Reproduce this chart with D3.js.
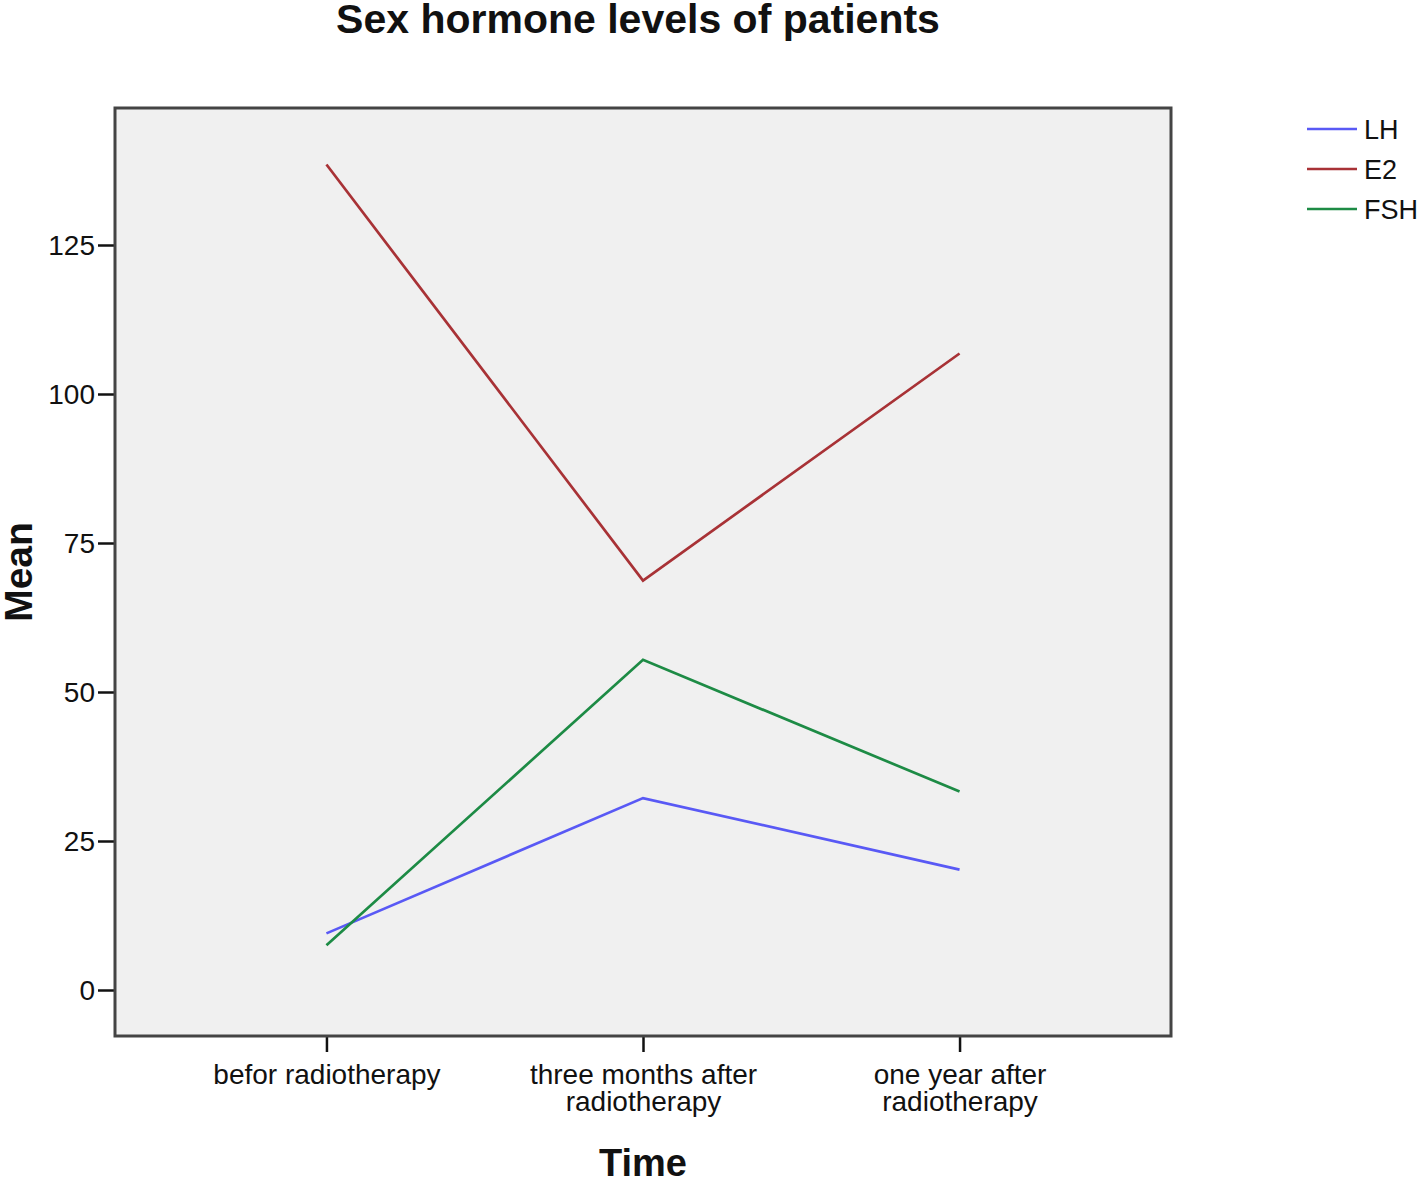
<!DOCTYPE html>
<html>
<head>
<meta charset="utf-8">
<script src="https://cdn.jsdelivr.net/npm/d3@7"></script>
<style>
  body { margin: 0; background: #fff; }
  svg { display: block; font-family: "Liberation Sans", Arial, sans-serif; }
</style>
</head>
<body>
<svg id="chart"></svg>
<script>
const timePoints = ['befor radiotherapy', 'three months after radiotherapy', 'one year after radiotherapy'];
const tickLabels = [['befor radiotherapy'], ['three months after', 'radiotherapy'], ['one year after', 'radiotherapy']];
const seriesNames = ['LH', 'E2', 'FSH'];
const lhValues = [9.5, 32.2, 20.2];
const e2Values = [138.5, 68.7, 106.8];
const fshValues = [7.5, 55.4, 33.3];
const yTicks = [0, 25, 50, 75, 100, 125];
const colors = ['#5959f5', '#a83236', '#1d8b45'];

const width = 1418;
const height = 1182;
const plot = { left: 115, right: 1171, top: 108, bottom: 1036 };

const svg = d3.select('#chart').attr('width', width).attr('height', height);

const series = seriesNames.map((name, i) => ({
  name: name,
  values: [lhValues, e2Values, fshValues][i],
  color: colors[i]
}));

const xScale = d3.scalePoint()
  .domain(timePoints)
  .range([plot.left, plot.right])
  .padding(0.668);

// 0 sits at y=990, 125 at y=245
const yScale = d3.scaleLinear()
  .domain([0, 125])
  .range([990, 245]);

// plot background
svg.append('rect')
  .attr('x', plot.left)
  .attr('y', plot.top)
  .attr('width', plot.right - plot.left)
  .attr('height', plot.bottom - plot.top)
  .attr('fill', '#f0f0f0');

// lines
const line = d3.line()
  .x((d, i) => xScale(timePoints[i]))
  .y(d => yScale(d));

svg.selectAll('.series')
  .data(series)
  .enter()
  .append('path')
  .attr('class', 'series')
  .attr('d', d => line(d.values))
  .attr('fill', 'none')
  .attr('stroke', d => d.color)
  .attr('stroke-width', 2.7);

// y axis
const yAxis = d3.axisLeft(yScale)
  .tickValues(yTicks)
  .tickSize(17)
  .tickPadding(3);

const gy = svg.append('g')
  .attr('transform', 'translate(' + plot.left + ',0)')
  .call(yAxis);
gy.select('.domain').remove();
gy.selectAll('.tick line').attr('stroke', '#111').attr('stroke-width', 2.5);
gy.selectAll('.tick text')
  .attr('fill', '#111')
  .style('font-size', '28px')
  .attr('dy', '0.35em');

// x axis
const xAxis = d3.axisBottom(xScale)
  .tickSize(16)
  .tickFormat('');

const gx = svg.append('g')
  .attr('transform', 'translate(0,' + plot.bottom + ')')
  .call(xAxis);
gx.select('.domain').remove();
gx.selectAll('.tick line').attr('stroke', '#111').attr('stroke-width', 2.5);

gx.selectAll('.tick')
  .append('text')
  .attr('fill', '#111')
  .attr('text-anchor', 'middle')
  .style('font-size', '28px')
  .selectAll('tspan')
  .data((d, i) => tickLabels[i])
  .enter()
  .append('tspan')
  .attr('x', 0)
  .attr('y', (d, i) => 48 + i * 27)
  .text(d => d);

// frame on top of the lines
svg.append('rect')
  .attr('x', plot.left)
  .attr('y', plot.top)
  .attr('width', plot.right - plot.left)
  .attr('height', plot.bottom - plot.top)
  .attr('fill', 'none')
  .attr('stroke', '#444')
  .attr('stroke-width', 3);

// title and axis titles
svg.append('text')
  .attr('x', 638)
  .attr('y', 33)
  .attr('text-anchor', 'middle')
  .style('font-size', '41px')
  .style('font-weight', 'bold')
  .attr('fill', '#111')
  .text('Sex hormone levels of patients');

svg.append('text')
  .attr('x', 643)
  .attr('y', 1176)
  .attr('text-anchor', 'middle')
  .style('font-size', '38px')
  .style('font-weight', 'bold')
  .attr('fill', '#111')
  .text('Time');

svg.append('text')
  .attr('transform', 'translate(32,572) rotate(-90)')
  .attr('text-anchor', 'middle')
  .style('font-size', '39px')
  .style('font-weight', 'bold')
  .attr('fill', '#111')
  .text('Mean');

// legend
const legend = svg.selectAll('.legend')
  .data(series)
  .enter()
  .append('g')
  .attr('class', 'legend')
  .attr('transform', (d, i) => 'translate(1307,' + (129 + i * 40) + ')');

legend.append('line')
  .attr('x1', 0)
  .attr('x2', 50)
  .attr('stroke', d => d.color)
  .attr('stroke-width', 2.7);

legend.append('text')
  .attr('x', 57)
  .attr('dy', '0.36em')
  .style('font-size', '27px')
  .attr('fill', '#111')
  .text(d => d.name);
</script>
</body>
</html>
